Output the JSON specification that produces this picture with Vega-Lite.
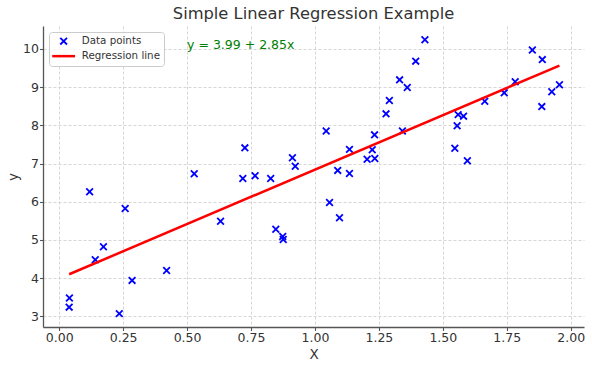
{
  "$schema": "https://vega.github.io/schema/vega-lite/v6.json",
  "width": 541,
  "height": 301,
  "autosize": "none",
  "padding": {"left": 43, "top": 26, "right": 8, "bottom": 41},
  "title": {"text": "Simple Linear Regression Example", "fontSize": 16.3, "font": "DejaVu Sans", "fontWeight": "normal", "color": "#333333", "anchor": "middle", "offset": 4},
  "config": {
    "view": {"stroke": null},
    "font": "DejaVu Sans",
    "axis": {
      "grid": true, "gridDash": [3, 2], "gridColor": "#cccccc", "gridWidth": 0.8,
      "domainColor": "#555555", "domainWidth": 1.3, "tickColor": "#555555", "tickWidth": 1.1, "tickSize": 3.5,
      "labelFont": "DejaVu Sans", "labelFontSize": 12.5, "labelColor": "#333333", "labelPadding": 1,
      "titleFont": "DejaVu Sans", "titleFontSize": 13.5, "titleFontWeight": "normal", "titleColor": "#333333"
    },
    "legend": {
      "orient": "top-left", "offset": 6, "padding": 4, "fillColor": "rgba(255,255,255,0.8)", "strokeColor": "#cccccc",
      "cornerRadius": 3, "labelFont": "DejaVu Sans", "labelFontSize": 10.3, "labelColor": "#333333",
      "symbolSize": 45, "symbolOffset": 5.5, "labelOffset": 13, "rowPadding": 2
    }
  },
  "datasets": {
    "points": [
      {"x": 0.726, "y": 7.41, "series": "Data points"}, {"x": 0.528, "y": 6.73, "series": "Data points"},
      {"x": 0.718, "y": 6.61, "series": "Data points"}, {"x": 0.766, "y": 6.68, "series": "Data points"},
      {"x": 0.827, "y": 6.61, "series": "Data points"}, {"x": 0.912, "y": 7.15, "series": "Data points"},
      {"x": 0.923, "y": 6.93, "series": "Data points"}, {"x": 1.430, "y": 10.24, "series": "Data points"},
      {"x": 1.850, "y": 9.97, "series": "Data points"}, {"x": 1.889, "y": 9.72, "series": "Data points"},
      {"x": 1.394, "y": 9.68, "series": "Data points"}, {"x": 1.331, "y": 9.19, "series": "Data points"},
      {"x": 1.361, "y": 8.99, "series": "Data points"}, {"x": 1.783, "y": 9.14, "series": "Data points"},
      {"x": 1.956, "y": 9.06, "series": "Data points"}, {"x": 1.926, "y": 8.88, "series": "Data points"},
      {"x": 1.740, "y": 8.85, "series": "Data points"}, {"x": 1.291, "y": 8.65, "series": "Data points"},
      {"x": 1.664, "y": 8.63, "series": "Data points"}, {"x": 1.278, "y": 8.30, "series": "Data points"},
      {"x": 1.887, "y": 8.49, "series": "Data points"}, {"x": 1.560, "y": 8.28, "series": "Data points"},
      {"x": 1.581, "y": 8.24, "series": "Data points"}, {"x": 1.556, "y": 7.99, "series": "Data points"},
      {"x": 1.044, "y": 7.85, "series": "Data points"}, {"x": 1.342, "y": 7.85, "series": "Data points"},
      {"x": 1.233, "y": 7.75, "series": "Data points"}, {"x": 1.135, "y": 7.37, "series": "Data points"},
      {"x": 1.224, "y": 7.36, "series": "Data points"}, {"x": 1.547, "y": 7.40, "series": "Data points"},
      {"x": 1.204, "y": 7.11, "series": "Data points"}, {"x": 1.234, "y": 7.13, "series": "Data points"},
      {"x": 1.596, "y": 7.07, "series": "Data points"}, {"x": 1.089, "y": 6.82, "series": "Data points"},
      {"x": 1.135, "y": 6.74, "series": "Data points"}, {"x": 0.119, "y": 6.26, "series": "Data points"},
      {"x": 0.258, "y": 5.82, "series": "Data points"}, {"x": 0.631, "y": 5.49, "series": "Data points"},
      {"x": 0.847, "y": 5.28, "series": "Data points"}, {"x": 0.874, "y": 5.09, "series": "Data points"},
      {"x": 0.876, "y": 5.01, "series": "Data points"}, {"x": 0.173, "y": 4.82, "series": "Data points"},
      {"x": 0.141, "y": 4.48, "series": "Data points"}, {"x": 0.420, "y": 4.20, "series": "Data points"},
      {"x": 0.285, "y": 3.94, "series": "Data points"}, {"x": 0.040, "y": 3.48, "series": "Data points"},
      {"x": 0.039, "y": 3.24, "series": "Data points"}, {"x": 0.235, "y": 3.07, "series": "Data points"},
      {"x": 1.057, "y": 5.98, "series": "Data points"}, {"x": 1.096, "y": 5.58, "series": "Data points"}
    ],
    "fit": [
      {"x": 0.039, "y": 4.101, "series": "Regression line"},
      {"x": 1.956, "y": 9.565, "series": "Regression line"}
    ],
    "note": [
      {"x": 0.5, "y": 10.0, "label": "y = 3.99 + 2.85x"}
    ]
  },
  "encoding": {
    "x": {"field": "x", "type": "quantitative", "title": "X",
          "scale": {"domain": [-0.0633, 2.052], "nice": false, "zero": false},
          "axis": {"values": [0, 0.25, 0.5, 0.75, 1, 1.25, 1.5, 1.75, 2], "format": ".2f", "titlePadding": 3}},
    "y": {"field": "y", "type": "quantitative", "title": "y",
          "scale": {"domain": [2.72, 10.6], "nice": false, "zero": false},
          "axis": {"values": [3, 4, 5, 6, 7, 8, 9, 10], "titlePadding": 2}}
  },
  "layer": [
    {
      "data": {"name": "points"},
      "mark": {"type": "point", "filled": false, "opacity": 1, "size": 45},
      "encoding": {
        "color": {"field": "series", "type": "nominal", "title": null,
                  "scale": {"domain": ["Data points", "Regression line"], "range": ["#0000ff", "#ff0000"]}},
        "shape": {"field": "series", "type": "nominal", "title": null,
                  "scale": {"domain": ["Data points", "Regression line"], "range": ["M-1,-1L1,1M-1,1L1,-1", "M-3.4,0L3.4,0"]}},
        "strokeWidth": {"field": "series", "type": "nominal", "title": null,
                 "scale": {"domain": ["Data points", "Regression line"], "range": [1.8, 2.5]}}
      }
    },
    {
      "data": {"name": "fit"},
      "mark": {"type": "line", "strokeWidth": 2.5},
      "encoding": {
        "color": {"field": "series", "type": "nominal", "title": null}
      }
    },
    {
      "data": {"name": "note"},
      "mark": {"type": "text", "align": "left", "baseline": "alphabetic", "fontSize": 12.5, "color": "#008000", "font": "DejaVu Sans"},
      "encoding": {
        "text": {"field": "label", "type": "nominal"}
      }
    }
  ]
}
